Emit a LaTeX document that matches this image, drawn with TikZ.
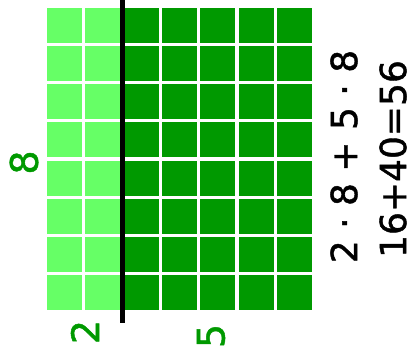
\documentclass[tikz,border=0pt]{standalone}
\usepackage{fontspec}
\setmainfont{DejaVu Sans}
\newfontfamily\handfont[FakeBold=1.2]{DejaVu Sans}
\definecolor{lightgreen}{RGB}{102,255,102}
\definecolor{darkgreen}{RGB}{0,153,0}
\tikzset{
  digit/.style={text=darkgreen, font=\handfont\fontsize{38}{40}\selectfont, rotate=90, inner sep=0pt},
  sumtext/.style={text=black, font=\handfont\fontsize{36}{40}\selectfont, rotate=90, inner sep=0pt}
}

\begin{document}
\begin{tikzpicture}[x=1pt, y=1pt]
    \useasboundingbox (0,0) rectangle (417,358);
    % squares: 2 light columns, 5 dark columns
    \foreach \c in {0,...,6}
      \foreach \r in {0,...,7} {
        \ifnum\c<2 \def\cellcol{lightgreen}\else\def\cellcol{darkgreen}\fi
        \fill[\cellcol] ({47+38.3*\c},{350-38.15*\r}) rectangle ++(35.1,-34.95);
      }

    \coordinate (cuttop) at (122.5,358);
    \coordinate (cutbottom) at (122.5,35.3);
    \draw[line width=5pt] (cuttop) -- (cutbottom);

    \node[digit] (rows) at (24,195.5) {8};
    \node[digit] (leftcols) at (85,26) {2};
    \node[digit] (rightcols) at (211,22) {5};

    \node[sumtext] (sumline) at (344,201.5) {2 · 8 + 5 · 8};
    \node[sumtext] (resultline) at (393,199) {16+40=56};
\end{tikzpicture}
\end{document}
